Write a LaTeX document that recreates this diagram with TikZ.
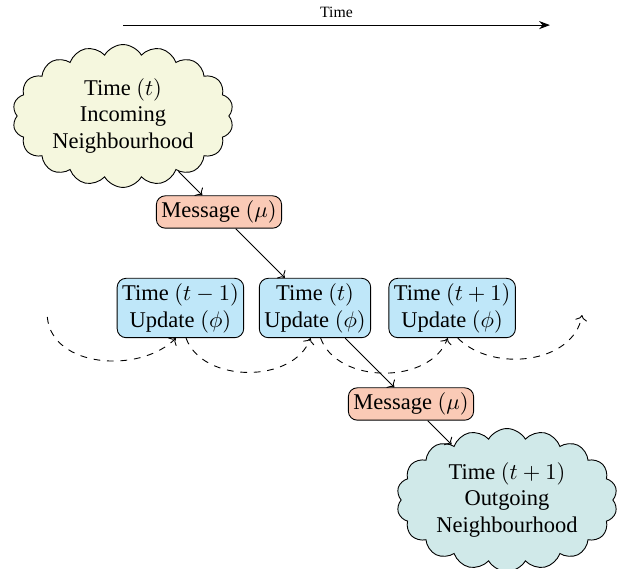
\documentclass[tikz,border=0pt]{standalone}
\usepackage[no-math]{fontspec}
\setmainfont{Liberation Serif}
\usepackage{amsmath}
\usetikzlibrary{positioning,shapes.symbols,arrows.meta,calc}
\definecolor{inbg}{RGB}{245,247,222}
\definecolor{outbg}{RGB}{208,233,233}
\definecolor{updbg}{RGB}{191,231,249}
\definecolor{msgbg}{RGB}{250,202,182}
\tikzset{
  hood/.style={cloud, draw, cloud puffs=18, cloud puff arc=120, aspect=1.6, minimum width=34.5mm, minimum height=21mm, align=center, inner sep=0pt},
  update/.style={draw, rounded corners, fill=updbg, align=center, inner sep=2.2pt},
  message/.style={draw, rounded corners, fill=msgbg, align=center, inner sep=2.2pt},
  recur/.style={dashed, ->},
}

\begin{document}
\begin{tikzpicture}[node distance=2.5mm]
\useasboundingbox (-1.922,1.8125) rectangle (7.8125,-7.078);
\node (inc)  [hood, fill=inbg] at (0,0) {Time $(t)$\\Incoming\\Neighbourhood};
\node (msg1) [message] at (1.5,-1.5) {Message $(\mu)$};
\node (upd)  [update] at (3,-3) {Time $(t)$\\Update $(\phi)$};
\node (prev) [update, left=2.3mm of upd] {Time $(t-1)$\\Update $(\phi)$};
\node (next) [update, right=2.7mm of upd] {Time $(t+1)$\\Update $(\phi)$};
\node (msg2) [message] at (4.5,-4.5) {Message $(\mu)$};
\node (out)  [hood, fill=outbg] at (6,-6) {Time $(t+1)$\\Outgoing\\Neighbourhood};

% time axis
\coordinate (tstart) at (0,1.42);
\coordinate (tend) at (6.67,1.42);
\draw[-Stealth] (tstart) -- (tend) node[midway,above] {\scriptsize Time};

% message passing
\draw[->] (inc) -- (msg1);
\draw[->] (msg1) -- (upd);
\draw[->] (upd) -- (msg2);
\draw[->] (msg2) -- (out);

% recurrence
\coordinate (before) at ($(prev.south)+(-2.08,0.33)$);
\coordinate (after) at ($(next.south)+(2.03,0.36)$);
\draw[recur] (before) to[out=-85,in=-135] ([xshift=-2pt]prev.south);
\draw[recur] ([xshift=2.5pt]prev.south) to[out=-70,in=-110] ([xshift=-2pt]upd.south);
\draw[recur] ([xshift=2.5pt]upd.south) to[out=-70,in=-110] ([xshift=-2pt]next.south);
\draw[recur] ([xshift=2.5pt]next.south) to[out=-45,in=-100] (after);
\end{tikzpicture}
\end{document}
